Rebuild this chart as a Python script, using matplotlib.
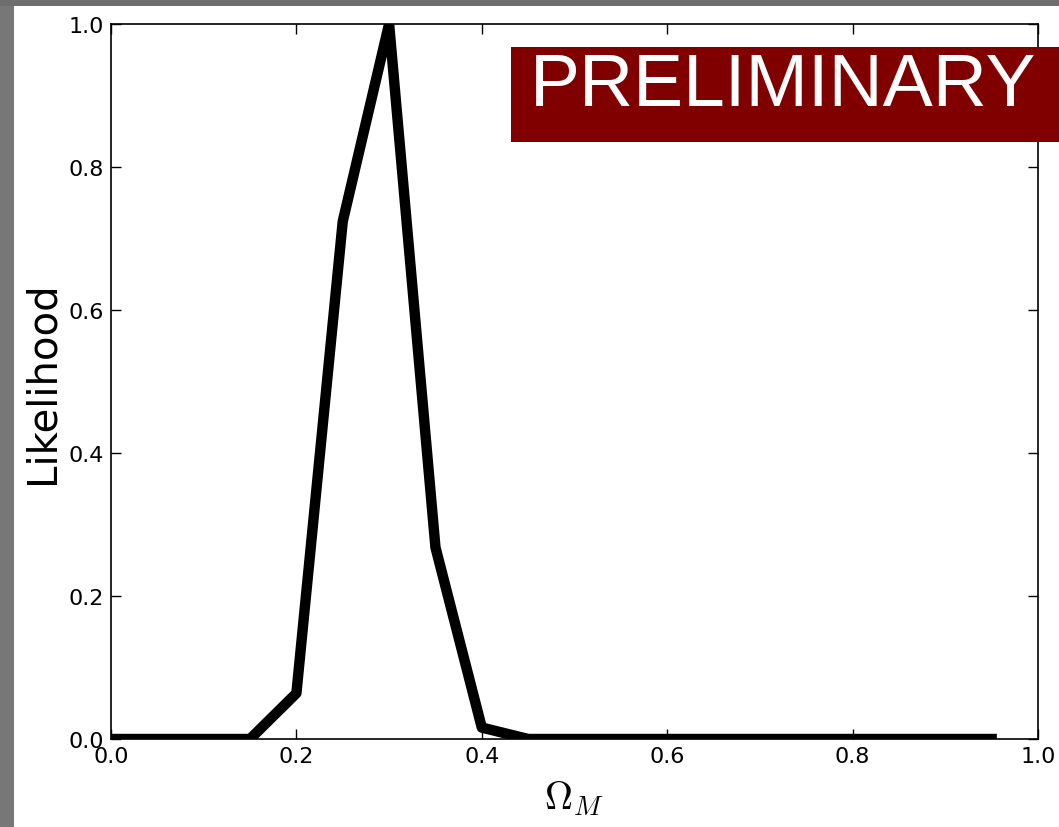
import matplotlib
matplotlib.use("Agg")
import matplotlib.pyplot as plt
from matplotlib.patches import Rectangle

# likelihood curve for Omega_M
omega_m = [0.0, 0.05, 0.10, 0.15, 0.20, 0.25, 0.30, 0.35, 0.40, 0.45,
           0.50, 0.55, 0.60, 0.65, 0.70, 0.75, 0.80, 0.85, 0.90, 0.95]
likelihood = [0.0, 0.0, 0.0, 0.0, 0.064, 0.724, 1.0, 0.268, 0.016, 0.0,
              0.0, 0.0, 0.0, 0.0, 0.0, 0.0, 0.0, 0.0, 0.0, 0.0]

xticks = [0.0, 0.2, 0.4, 0.6, 0.8, 1.0]
yticks = [0.0, 0.2, 0.4, 0.6, 0.8, 1.0]

plt.rcParams["mathtext.fontset"] = "cm"

W, H = 1059, 828
fig = plt.figure(figsize=(W / 100, H / 100), dpi=100)
fig.patch.set_facecolor("white")

# slide frame around the figure
fig.patches.append(Rectangle((0, 0), 14 / W, 1, transform=fig.transFigure,
                             facecolor="#777777", edgecolor="none", zorder=0))
fig.patches.append(Rectangle((0, 1 - 7 / H), 1, 7 / H, transform=fig.transFigure,
                             facecolor="#6e6e6e", edgecolor="none", zorder=0))

ax = fig.add_axes([111 / W, 88 / H, 927 / W, 715 / H])
ax.plot(omega_m, likelihood, color="black", linewidth=7.5)
ax.set_xlim(0, 1)
ax.set_ylim(0, 1)
ax.set_xticks(xticks)
ax.set_yticks(yticks)
ax.tick_params(direction="in", length=7, width=1, top=True, right=True,
               labelsize=16, pad=5)
for s in ax.spines.values():
    s.set_linewidth(1.2)
ax.set_xlabel(r"$\Omega_M$", fontsize=28, labelpad=9)
ax.set_ylabel("Likelihood", fontsize=29, labelpad=4)

# PRELIMINARY banner
fig.patches.append(Rectangle((511 / W, 1 - 143 / H), 560 / W, 95 / H,
                             transform=fig.transFigure, facecolor="#800000",
                             edgecolor="none", zorder=5))
fig.text(783 / W, 1 - 87 / H, "PRELIMINARY", color="white", fontsize=54,
         family="Liberation Sans", ha="center", va="center", zorder=6)

fig.savefig("out.png", dpi=100)
